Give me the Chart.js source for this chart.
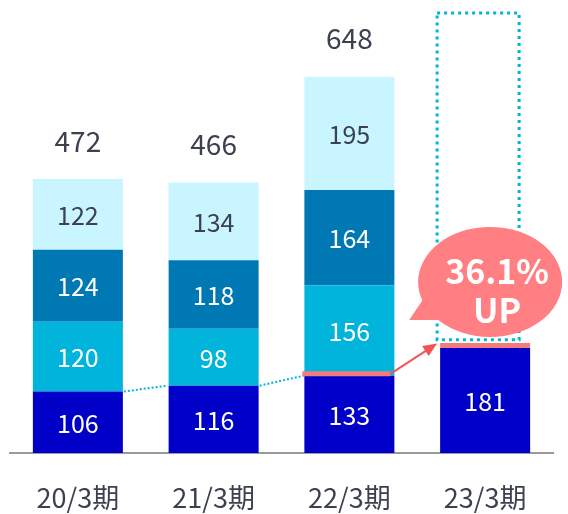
<!DOCTYPE html>
<html><head><meta charset="utf-8">
<script src="https://cdn.jsdelivr.net/npm/chart.js@4/dist/chart.umd.min.js"></script>
<style>html,body{margin:0;padding:0;background:#fff}#wrap{width:568px;height:514px;position:relative}</style>
</head><body><div id="wrap"><canvas id="c"></canvas></div>
<script>
const categories = ['20/3期','21/3期','22/3期','23/3期'];
const seriesA = [106,116,133,181];
const seriesB = [120,98,156,null];
const seriesC = [124,118,164,null];
const seriesD = [122,134,195,null];
const totals = [472,466,648,null];
const growthLabel = ['36.1%','UP'];
const targetRange = [195,758];
const yMax = 758;

const FONT = "'Noto Sans CJK JP','Noto Sans',sans-serif";
const colors = ['#0000c8','#00b4dc','#0078b4','#c8f5ff'];
const labelColors = ['#ffffff','#ffffff','#ffffff','#3c4150'];
const seriesList = [seriesA,seriesB,seriesC,seriesD];

const overlay = {
  id:'overlay',
  afterDatasetsDraw(chart){
    const ctx = chart.ctx, xs = chart.scales.x, ys = chart.scales.y;
    const metas = seriesList.map((_,i)=>chart.getDatasetMeta(i));
    ctx.save();
    // dotted connectors between bottom segments
    ctx.strokeStyle='#00b4dc'; ctx.lineWidth=2; ctx.setLineDash([2,2]);
    for(let i=0;i<2;i++){
      const b1=metas[0].data[i], b2=metas[0].data[i+1];
      ctx.beginPath();
      ctx.moveTo(b1.x+b1.width/2+1, ys.getPixelForValue(seriesA[i]));
      ctx.lineTo(b2.x-b2.width/2-1, ys.getPixelForValue(seriesA[i+1]));
      ctx.stroke();
    }
    ctx.setLineDash([]);
    // segment labels
    ctx.textAlign='center'; ctx.textBaseline='middle';
    ctx.font = '25px '+FONT;
    seriesList.forEach((s,si)=>{
      s.forEach((v,i)=>{
        if(v==null) return;
        const el = metas[si].data[i];
        ctx.fillStyle = labelColors[si];
        ctx.fillText(String(v), el.x, (el.y+el.base)/2+1);
      });
    });
    // totals
    ctx.font = '28px '+FONT; ctx.fillStyle='#3c4150';
    totals.forEach((t,i)=>{
      if(t==null) return;
      ctx.fillText(String(t), xs.getPixelForValue(i), ys.getPixelForValue(t)-38);
    });
    // dotted target box on last bar
    const last = metas[0].data[3];
    const bx0 = last.x-last.width/2-3, bx1 = last.x+last.width/2-11;
    const by0 = ys.getPixelForValue(targetRange[1]), by1 = ys.getPixelForValue(targetRange[0]);
    ctx.strokeStyle='#00b4dc'; ctx.lineWidth=3; ctx.setLineDash([3,4]);
    ctx.strokeRect(bx0, by0, bx1-bx0, by1-by0);
    ctx.setLineDash([]);
    // red highlight lines
    const b3 = metas[0].data[2];
    const y3 = ys.getPixelForValue(seriesA[2]) - 2;
    const y4 = ys.getPixelForValue(seriesA[3]) - 2.5;
    ctx.strokeStyle='#f57a7e'; ctx.lineWidth=5;
    ctx.beginPath(); ctx.moveTo(b3.x-b3.width/2-2, y3); ctx.lineTo(b3.x+b3.width/2-4, y3); ctx.stroke();
    ctx.beginPath(); ctx.moveTo(last.x-last.width/2, y4); ctx.lineTo(last.x+last.width/2, y4); ctx.stroke();
    // arrow
    const ax0 = b3.x+b3.width/2-4, ay0 = y3;
    const ax1 = bx0, ay1 = y4-2;
    ctx.strokeStyle='#f05555'; ctx.fillStyle='#f05555'; ctx.lineWidth=2;
    const ang = Math.atan2(ay1-ay0, ax1-ax0);
    ctx.beginPath(); ctx.moveTo(ax0,ay0); ctx.lineTo(ax1-8*Math.cos(ang), ay1-8*Math.sin(ang)); ctx.stroke();
    ctx.beginPath();
    ctx.moveTo(ax1,ay1);
    ctx.lineTo(ax1-14*Math.cos(ang)+6*Math.sin(ang), ay1-14*Math.sin(ang)-6*Math.cos(ang));
    ctx.lineTo(ax1-14*Math.cos(ang)-6*Math.sin(ang), ay1-14*Math.sin(ang)+6*Math.cos(ang));
    ctx.closePath(); ctx.fill();
    // callout bubble
    const cx = last.x+5, cy = ys.getPixelForValue(seriesA[3])-66;
    ctx.fillStyle='#ff7f83';
    ctx.beginPath(); ctx.ellipse(cx, cy, 72, 55, 0, 0, Math.PI*2); ctx.fill();
    ctx.beginPath();
    ctx.moveTo(cx-62, cy+10); ctx.lineTo(cx-81, cy+38); ctx.lineTo(cx-42, cy+38); ctx.closePath(); ctx.fill();
    ctx.fillStyle='#ffffff'; ctx.font='bold 34px '+FONT;
    ctx.fillText(growthLabel[0], cx+7, cy-11);
    ctx.fillText(growthLabel[1], cx+7, cy+28);
    ctx.restore();
  }
};

new Chart(document.getElementById('c'), {
  type:'bar',
  data:{
    labels: categories,
    datasets: seriesList.map((s,i)=>({data:s, backgroundColor:colors[i], borderWidth:0, barPercentage:0.663, categoryPercentage:1}))
  },
  options:{
    responsive:true, maintainAspectRatio:false, animation:false,
    layout:{padding:{left:10,right:15,top:13,bottom:0}},
    plugins:{legend:{display:false}, tooltip:{enabled:false}},
    scales:{
      x:{stacked:true, grid:{display:false, drawTicks:false}, border:{display:true,color:'#9a9a9a',width:2},
         ticks:{color:'#3c4150', font:{family:FONT,size:27}, padding:29},
         afterFit(scale){ scale.height = 61; }},
      y:{stacked:true, display:false, min:0, max:yMax}
    }
  },
  plugins:[overlay]
});
</script></body></html>
